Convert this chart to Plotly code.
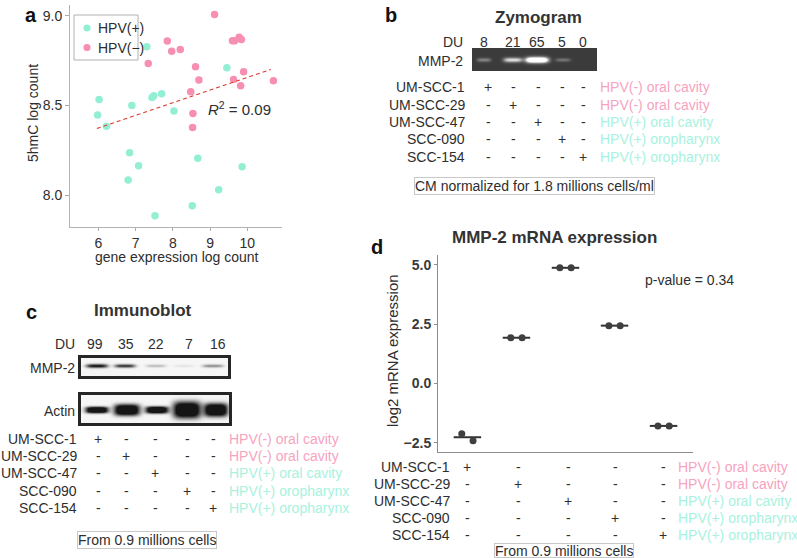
import numpy as np
import plotly.graph_objects as go

W, H = 797, 558
FONT = "Liberation Sans, Arial, Helvetica, sans-serif"
TXT = "#2e2e2e"
PINK, CYAN = "#F78FB0", "#93EFD3"
PINK_T, CYAN_T = "#F7A3C0", "#A8F2DE"

# ---------------- data ----------------
# panel a : 5hmC vs gene expression
hpv_pos_expr = [7.30, 6.02, 5.98, 6.22, 6.90, 7.44, 7.49, 7.70, 8.03, 9.45,
                6.84, 7.08, 6.80, 8.67, 9.86, 9.23, 8.52, 7.52]
hpv_pos_5hmc = [8.827, 8.534, 8.447, 8.385, 8.500, 8.545, 8.554, 8.565, 8.469, 8.710,
                8.237, 8.164, 8.085, 8.207, 8.159, 8.031, 7.942, 7.886]
hpv_neg_expr = [9.12, 7.85, 7.97, 8.20, 7.34, 8.61, 8.70, 8.48, 8.54, 8.53,
                9.60, 9.66, 9.78, 9.84, 9.63, 9.90, 9.82, 10.70]
hpv_neg_5hmc = [9.007, 8.859, 8.803, 8.812, 8.734, 8.716, 8.642, 8.577, 8.456, 8.378,
                8.861, 8.861, 8.881, 8.868, 8.645, 8.688, 8.610, 8.638]
fit_x = [5.96, 10.63]
fit_y = [8.372, 8.701]
r_squared = "0.09"

# cell lines (shared by b, c, d)
cell_lines = ["UM-SCC-1", "UM-SCC-29", "UM-SCC-47", "SCC-090", "SCC-154"]
hpv_site = ["HPV(-) oral cavity", "HPV(-) oral cavity", "HPV(+) oral cavity",
            "HPV(+) oropharynx", "HPV(+) oropharynx"]
hpv_positive = [False, False, True, True, True]

# panel b : zymogram
zymo_du = ["8", "21", "65", "5", "0"]
zymo_band = [0.40, 0.85, 1.6, 0.32, 0.0]

# panel c : immunoblot
blot_du = ["99", "35", "22", "7", "16"]
mmp2_band = [1.0, 0.85, 0.25, 0.08, 0.45]
actin_band = [1.4, 1.4, 1.4, 1.4, 1.4]

# panel d : mRNA expression (two replicates per cell line)
mrna_rep1 = [-2.115, 1.93, 4.88, 2.44, -1.79]
mrna_rep2 = [-2.420, 1.93, 4.88, 2.44, -1.79]
p_value = "0.34"


def px(x):
    return x / W


def py(y):
    return 1 - y / H


fig = go.Figure()
ann = []
shapes = []


def txt(text, x, y, size=14, color=TXT, xanchor="center", bold=False, **kw):
    d = dict(text=text, x=px(x), y=py(y), xref="paper", yref="paper",
             xanchor=xanchor, yanchor="middle", showarrow=False,
             font=dict(family=FONT, size=size, color=color,
                       weight="bold" if bold else "normal"))
    d.update(kw)
    ann.append(d)


# ---------------- panel a ----------------
fig.add_trace(go.Scatter(x=hpv_pos_expr, y=hpv_pos_5hmc, mode="markers", name="HPV(+)",
                         marker=dict(color=CYAN, size=7.5), xaxis="x", yaxis="y",
                         showlegend=False))
fig.add_trace(go.Scatter(x=hpv_neg_expr, y=hpv_neg_5hmc, mode="markers", name="HPV(−)",
                         marker=dict(color=PINK, size=7.5), xaxis="x", yaxis="y",
                         showlegend=False))
fig.add_trace(go.Scatter(x=fit_x, y=fit_y, mode="lines", xaxis="x", yaxis="y",
                         line=dict(color="#d93a2e", width=1.2, dash="4px,3px"),
                         showlegend=False, hoverinfo="skip"))

# legend box
shapes.append(dict(type="rect", xref="paper", yref="paper", x0=px(74), x1=px(138),
                   y0=py(60), y1=py(15), line=dict(color="#b0b0b0", width=1),
                   fillcolor="white", layer="below"))
for i, (lab, col) in enumerate([("HPV(+)", CYAN), ("HPV(−)", PINK)]):
    yy = 28 + i * 19.5
    shapes.append(dict(type="circle", xref="paper", yref="paper",
                       x0=px(87 - 3.6), x1=px(87 + 3.6), y0=py(yy + 3.6), y1=py(yy - 3.6),
                       fillcolor=col, line=dict(width=0)))
    txt(lab, 96, yy, size=14, xanchor="left")

txt("<i>R</i><sup>2</sup> = " + r_squared, 240, 108, size=15)
txt("gene expression log count", 177, 257, size=14)
txt("5hmC log count", 33, 113, size=14, textangle=-90)
txt("a", 31, 15, size=20, bold=True, color="#111")

# ---------------- panel d ----------------
groups = np.arange(1, len(cell_lines) + 1)
off, hw = 0.115, 0.28
means = [(a + b) / 2 for a, b in zip(mrna_rep1, mrna_rep2)]
cx, cy = [], []
for g, m in zip(groups, means):
    cx += [g - hw, g + hw, None]
    cy += [m, m, None]
fig.add_trace(go.Scatter(x=cx, y=cy, mode="lines", line=dict(color="#333333", width=2),
                         xaxis="x2", yaxis="y2", showlegend=False, hoverinfo="skip"))
fig.add_trace(go.Scatter(x=list(groups - off) + list(groups + off), y=mrna_rep1 + mrna_rep2,
                         mode="markers", marker=dict(color="#3f3f3f", size=7),
                         xaxis="x2", yaxis="y2", showlegend=False))
txt("MMP-2 mRNA expression", 554, 237, size=17, bold=True, color="#333")
txt("d", 377, 247, size=20, bold=True, color="#111")
txt("p-value = " + p_value, 689, 280, size=14)
txt("log2 mRNA expression", 392, 351, size=15, textangle=-90)


# ---------------- gels ----------------
def gel(wpx, hpx, centers, half_w, half_h, yc, amps, pw=4, ph=2):
    xx = np.arange(wpx) + 0.5
    yy = np.arange(hpx) + 0.5
    X, Y = np.meshgrid(xx, yy)
    z = np.zeros_like(X)
    for c, w_, h_, a in zip(centers, half_w, half_h, amps):
        z += a * np.exp(-(np.abs(X - c) / w_) ** pw) * np.exp(-(np.abs(Y - yc) / h_) ** ph)
    return xx, yy, np.clip(z, 0, 1)


# zymogram (x 472..597, y 48..71)
zx, zy, zz = gel(125, 23, [11, 40, 64, 90, 111], [7, 9.5, 11.5, 7.5, 6],
                 [2.0, 2.4, 2.9, 1.8, 1.8], 11, zymo_band)
fig.add_trace(go.Heatmap(x=zx, y=zy, z=zz, zmin=0, zmax=1, showscale=False, zsmooth="best",
                         colorscale=[[0, "#3b3b3b"], [0.35, "#7a7a7a"], [1, "#ffffff"]],
                         xaxis="x3", yaxis="y3", hoverinfo="skip"))
# MMP-2 immunoblot (x 81..228, y 358..376)
mx, my, mz = gel(147, 18, [15, 43, 74, 102, 131], [11, 10.5, 10, 10, 10.5],
                 [2.0, 1.8, 1.5, 1.3, 1.6], 7, mmp2_band)
fig.add_trace(go.Heatmap(x=mx, y=my, z=mz, zmin=0, zmax=1, showscale=False, zsmooth="best",
                         colorscale=[[0, "#f6f6f6"], [1, "#151515"]],
                         xaxis="x4", yaxis="y4", hoverinfo="skip"))
# actin (x 81..229, y 395..423)
ax_, ay_, az_ = gel(148, 28, [15, 45, 75, 105, 134], [11.5, 13, 11.5, 14, 12],
                    [3.3, 5.8, 3.6, 8.5, 6.8], 14, actin_band, pw=4, ph=3)
fig.add_trace(go.Heatmap(x=ax_, y=ay_, z=az_, zmin=0, zmax=1, showscale=False, zsmooth="best",
                         colorscale=[[0, "#f6f6f6"], [1, "#151515"]],
                         xaxis="x5", yaxis="y5", hoverinfo="skip"))

# panel b labels
txt("b", 391, 15, size=20, bold=True, color="#111")
txt("Zymogram", 538, 17, size=17, bold=True, color="#333")
txt("DU", 465, 42, xanchor="right")
for v, x in zip(zymo_du, [484, 513, 537, 562, 583]):
    txt(v, x, 42)
txt("MMP-2", 465, 61, xanchor="right")

# panel c labels
txt("c", 32, 312, size=20, bold=True, color="#111")
txt("Immunoblot", 143, 310, size=17, bold=True, color="#333")
txt("DU", 77, 344, xanchor="right")
for v, x in zip(blot_du, [95, 126, 156, 189, 218]):
    txt(v, x, 344)
txt("MMP-2", 77, 368, xanchor="right")
txt("Actin", 77, 411, xanchor="right")


# sign tables
def table(label_right, cols, rows, status_left):
    for i, (cl, site, pos) in enumerate(zip(cell_lines, hpv_site, hpv_positive)):
        y = rows[i]
        txt(cl, label_right, y, xanchor="right")
        for j, x in enumerate(cols):
            txt("+" if i == j else "-", x, y)
        txt(site, status_left, y, xanchor="left", color=CYAN_T if pos else PINK_T)


table(467, [488, 513, 538, 562, 583], [87, 105, 122, 139, 157], 598)
table(79, [98, 126, 155, 187, 213], [439, 456, 473, 491, 508], 227)
table(452, [467, 518, 568, 615, 663], [467, 484, 501, 518, 534.5], 676)

box = dict(bordercolor="#c8c8c8", borderwidth=1, borderpad=0, bgcolor="white")
txt("CM normalized for 1.8 millions cells/ml", 534.5, 186, **box)
txt("From 0.9 millions cells", 147, 540, **box)
txt("From 0.9 millions cells", 563.5, 550, height=13, **box)

hidden = dict(visible=False, showgrid=False, zeroline=False)
layout = dict(
    width=W, height=H, margin=dict(l=0, r=0, t=0, b=0),
    paper_bgcolor="white", plot_bgcolor="white", showlegend=False,
    font=dict(family=FONT, size=14, color=TXT),
    xaxis=dict(domain=[px(70), px(282)], range=[5.24, 10.93], tickvals=[6, 7, 8, 9, 10],
               ticks="outside", ticklen=3, tickcolor="#aaaaaa", showline=True,
               linecolor="#b3b3b3", showgrid=False, zeroline=False, anchor="y",
               tickfont=dict(family=FONT, size=14, color=TXT)),
    yaxis=dict(domain=[py(226.7), py(5)], range=[7.825, 9.06], tickvals=[8.0, 8.5, 9.0],
               tickformat=".1f", ticks="outside", ticklen=4, tickcolor="#aaaaaa",
               showline=True, linecolor="#b3b3b3", showgrid=False, zeroline=False,
               anchor="x", tickfont=dict(family=FONT, size=14, color=TXT)),
    xaxis2=dict(domain=[px(438), px(693)], range=[0.4, 5.6], showticklabels=False,
                ticks="", showline=True, linecolor="#8c8c8c", showgrid=False,
                zeroline=False, anchor="y2"),
    yaxis2=dict(domain=[py(452), py(255)], range=[-2.89, 5.42], tickvals=[-2.5, 0, 2.5, 5],
                tickformat=".1f", ticks="outside", ticklen=3, tickcolor="#8c8c8c",
                showline=True, linecolor="#8c8c8c", showgrid=False, zeroline=False,
                anchor="x2", tickfont=dict(family=FONT, size=14, color="#3a3a3a",
                                           weight="bold")),
    xaxis3=dict(domain=[px(472), px(597)], range=[0, 125], anchor="y3", **hidden),
    yaxis3=dict(domain=[py(71), py(48)], range=[23, 0], anchor="x3", **hidden),
    xaxis4=dict(domain=[px(81), px(228)], range=[0, 147], anchor="y4", showline=True,
                mirror=True, linewidth=3, linecolor="#262626", showticklabels=False,
                ticks="", showgrid=False, zeroline=False),
    yaxis4=dict(domain=[py(376), py(358)], range=[18, 0], anchor="x4", showline=True,
                mirror=True, linewidth=3, linecolor="#262626", showticklabels=False,
                ticks="", showgrid=False, zeroline=False),
    xaxis5=dict(domain=[px(81), px(229)], range=[0, 148], anchor="y5", showline=True,
                mirror=True, linewidth=3, linecolor="#262626", showticklabels=False,
                ticks="", showgrid=False, zeroline=False),
    yaxis5=dict(domain=[py(423), py(395)], range=[28, 0], anchor="x5", showline=True,
                mirror=True, linewidth=3, linecolor="#262626", showticklabels=False,
                ticks="", showgrid=False, zeroline=False),
    annotations=ann, shapes=shapes,
)
fig.update_layout(**layout)
# remove the browser's default 8px body margin so the figure sits at the page origin
fig.write_html("out.html", config={"displayModeBar": False},
               post_script="document.body.style.margin='0';document.body.style.overflow='hidden';")
